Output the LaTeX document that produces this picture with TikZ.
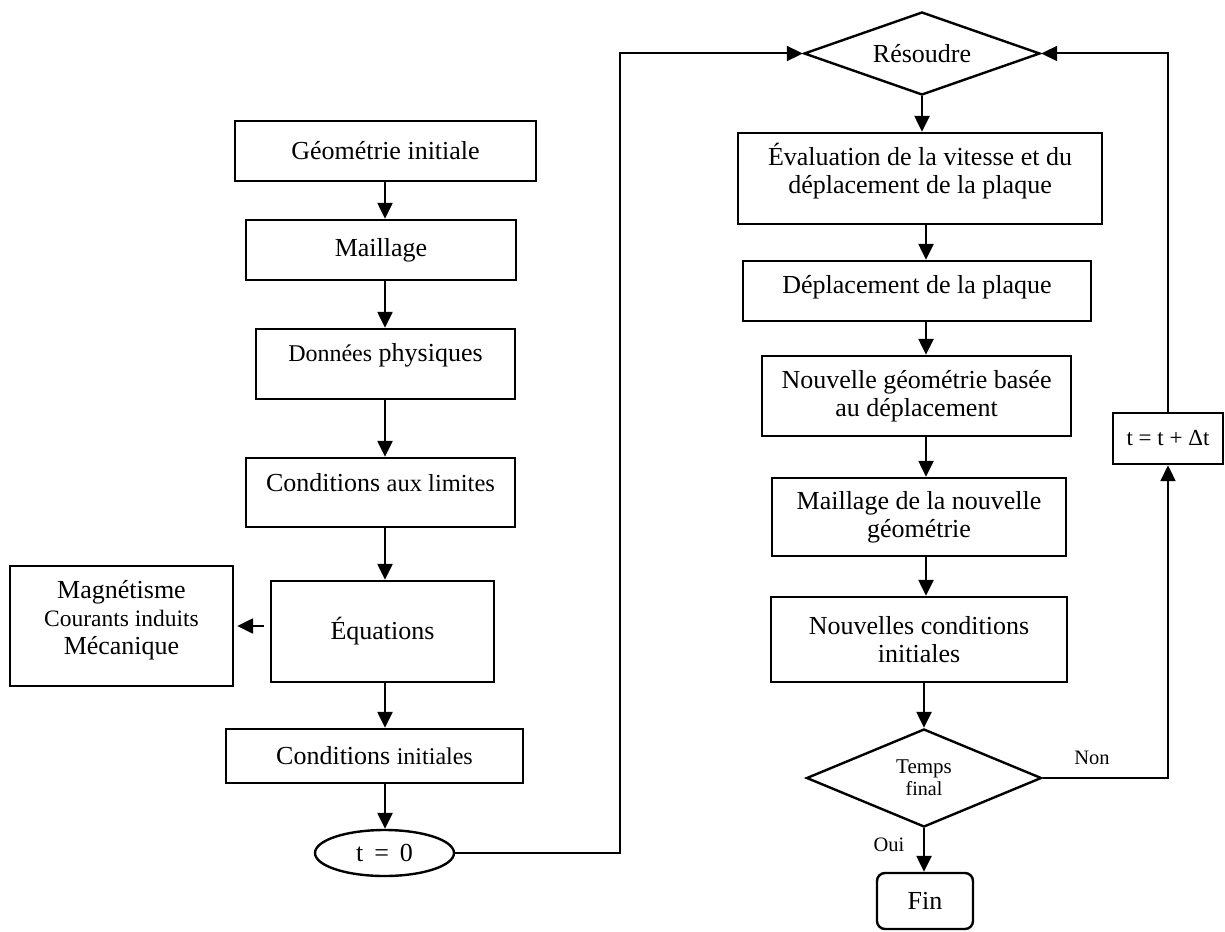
\documentclass[tikz,border=0pt]{standalone}
\usepackage{fontspec}
\setmainfont{Liberation Serif}
\usetikzlibrary{shapes.geometric,arrows.meta,calc}
\newcommand\fsz[2]{\fontsize{#1pt}{#2pt}\selectfont}

\begin{document}
\begin{tikzpicture}[x=1pt,y=-1pt,
  box/.style={draw, line width=2.4pt, inner sep=0pt, align=center, font=\fsz{26}{28}},
  txt/.style={inner sep=0pt, align=center, font=\fsz{26}{28}},
  dia/.style={draw, line width=2.4pt, shape=diamond, aspect=3, inner sep=0pt, align=center},
  lbl/.style={inner sep=0pt, font=\fsz{20.5}{22}},
  arr/.style={line width=2.4pt, -{Triangle[length=16pt,width=15pt]}},
  lnk/.style={line width=2pt, -{Triangle[length=16pt,width=15pt]}}
]
\useasboundingbox (0,0) rectangle (1225,931);

% column axes for the vertical connectors
\coordinate (lc) at (385,0);
\coordinate (rc) at (926,0);

% ---- left column: model set-up ----
\node[box, minimum width=301pt, minimum height=60pt] (geo) at (385.5,151) {Géométrie initiale};
\node[box, minimum width=270pt, minimum height=60pt] (mail) at (381,250) {Maillage};
\node[box, minimum width=259pt, minimum height=70pt] (don) at (385.5,364) {};
\node[txt] (donT) at ([yshift=9pt]don.center) {{\fsz{24}{28}Données} physiques};
\node[box, minimum width=269pt, minimum height=69pt] (cal) at (380.5,492.5) {};
\node[txt] (calT) at ([yshift=10pt]cal.center) {Conditions {\fsz{24.5}{28}aux limites}};
\node[box, minimum width=223pt, minimum height=101pt] (equ) at (382.5,631.5) {Équations};
\node[box, minimum width=297pt, minimum height=54pt] (ci) at (374.5,756) {Conditions {\fsz{24}{28}initiales}};
\node[box, minimum width=223pt, minimum height=120pt] (mag) at (121.5,626) {};
\node[txt] (magT) at ([yshift=6pt]mag.center) {Magnétisme\\{\fsz{23.5}{28}Courants induits}\\Mécanique};
\node[draw, line width=2.4pt, shape=ellipse, inner sep=0pt, minimum width=139pt, minimum height=46pt,
      font=\fsz{26}{28}] (t0) at (384.5,853) {t\hspace{0.42em}=\hspace{0.42em}0};

% ---- right column: time loop ----
\node[dia, minimum width=236pt, minimum height=83pt, font=\fsz{26}{28}] (res) at (922,53.5) {Résoudre};
\node[box, minimum width=364pt, minimum height=91pt] (eval) at (920,178.5) {};
\node[txt] (evalT) at ([yshift=7pt]eval.center) {Évaluation de la vitesse et du\\déplacement de la plaque};
\node[box, minimum width=348pt, minimum height=60pt] (dep) at (917,291) {};
\node[txt] (depT) at ([yshift=4pt]dep.center) {Déplacement de la plaque};
\node[box, minimum width=309pt, minimum height=80pt] (nouv) at (916.5,396) {Nouvelle géométrie basée\\au déplacement};
\node[box, minimum width=294pt, minimum height=78pt] (mailn) at (919,517) {Maillage de la nouvelle\\géométrie};
\node[box, minimum width=296pt, minimum height=85pt] (nci) at (919,639.5) {Nouvelles conditions\\initiales};
\node[dia, minimum width=235pt, minimum height=98pt, font=\fsz{21}{22}] (tf) at (924,778) {Temps\\{\fsz{20}{22}final}};
\node[box, rounded corners=8pt, minimum width=96pt, minimum height=56pt] (fin) at (925,901) {Fin};
\node[box, minimum width=110pt, minimum height=51pt, font=\fsz{23}{26}] (tdt) at (1168,438.5) {t = t + Δt};

\node[lbl] (non) at (1092,758) {Non};
\node[lbl] (oui) at (889,845) {Oui};

% ---- connectors, left column ----
\draw[arr] (geo.south -| lc) -- (mail.north -| lc);
\draw[arr] (mail.south -| lc) -- (don.north -| lc);
\draw[arr] (don.south -| lc) -- (cal.north -| lc);
\draw[arr] (cal.south -| lc) -- (equ.north -| lc);
\draw[arr] (equ.south -| lc) -- (ci.north -| lc);
\draw[arr] (ci.south -| lc) -- (t0.north -| lc);
\draw[arr, shorten <=6pt, shorten >=3pt] (equ.west |- mag.east) -- (mag.east);
\draw[lnk] (t0.east) -| ([xshift=-183pt]res.west) -- (res.west);

% ---- connectors, right column ----
\draw[arr] (res.south) -- (eval.north -| res.south);
\draw[arr] (eval.south -| rc) -- (dep.north -| rc);
\draw[arr] (dep.south -| rc) -- (nouv.north -| rc);
\draw[arr] (nouv.south -| rc) -- (mailn.north -| rc);
\draw[arr] (mailn.south -| rc) -- (nci.north -| rc);
\draw[arr] (nci.south -| tf.north) -- (tf.north);
\draw[arr] (tf.south) -- (fin.north -| tf.south);
\draw[lnk] (tf.east) -| (tdt.south);
\draw[lnk] (tdt.north) |- (res.east);
\end{tikzpicture}
\end{document}
